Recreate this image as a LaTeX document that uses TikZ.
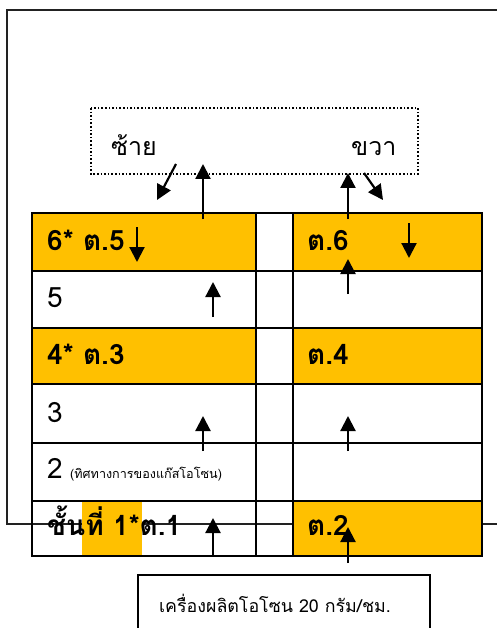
\documentclass[tikz,border=0pt]{standalone}
\usepackage{fontspec}
\usetikzlibrary{arrows.meta}
\newfontfamily\thai[Script=Thai]{Loma}
\definecolor{gold}{HTML}{FFC000}
\definecolor{framegray}{HTML}{222222}
\tikzset{
  grid/.style={line width=2pt, black},
  flow/.style={line width=2.2pt, -{Triangle[width=15pt,length=15pt]}},
  cell/.style={anchor=base west, inner sep=0pt, font=\thai\bfseries\fontsize{28}{32}\selectfont},
  plain/.style={anchor=base west, inner sep=0pt, font=\thai\fontsize{28}{32}\selectfont},
  side/.style={anchor=base west, inner sep=0pt, font=\thai\fontsize{25}{29}\selectfont},
}
\begin{document}
\begin{tikzpicture}[x=1pt,y=-1pt]
\useasboundingbox (0,0) rectangle (497,628);

% outer frame (open to the right)
\draw[line width=2pt, framegray] (497,10) -- (7,10) -- (7,524) -- (497,524);

% shaded cells
\fill[gold] (32,213) rectangle (256,271);
\fill[gold] (293,213) rectangle (482,271);
\fill[gold] (32,328) rectangle (256,384);
\fill[gold] (293,328) rectangle (482,384);
\fill[gold] (293,501) rectangle (482,556);
\fill[gold] (82,501) rectangle (142,556);

% table grid
\draw[grid] (32,213) rectangle (482,556);
\foreach \yy in {271,328,384,443,501} \draw[grid] (32,\yy) -- (482,\yy);
\draw[grid] (256,213) -- (256,556);
\draw[grid] (293,213) -- (293,556);

% direction box
\draw[line width=1.6pt, dotted] (91,108) rectangle (418,174);
\node[side] (left) at (111,156) {ซ้าย};
\node[side] (right) at (351,156) {ขวา};

% row labels
\node[cell] (r6) at (47,250) {6* ต.5};
\node[plain] (r5) at (47,307) {5};
\node[cell] (r4) at (47,364) {4* ต.3};
\node[plain] (r3) at (47,422) {3};
\node[plain] (r2) at (47,478) {2};
\node[anchor=base west, inner sep=0pt, font=\thai\fontsize{12.6}{15}\selectfont] (note) at (70,478) {(ทิศทางการของแก๊สโอโซน)};
\node[cell] (r1) at (47,535) {ชั้นที่ 1*ต.1};
\node[cell] (t6) at (307,250) {ต.6};
\node[cell] (t4) at (307,364) {ต.4};
\node[cell] (t2) at (307,535) {ต.2};

% ozone generator
\draw[line width=2pt] (138,628) -- (138,575) -- (430,575) -- (430,628);
\node[anchor=base, inner sep=0pt, font=\thai\fontsize{17.8}{21}\selectfont] (gen) at (275,612) {เครื่องผลิตโอโซน 20 กรัม/ชม.};

% arrow end points
\coordinate (a1s) at (176,164); \coordinate (a1e) at (157,200);
\coordinate (a2s) at (203,219); \coordinate (a2e) at (203,164);
\coordinate (a3s) at (348,219); \coordinate (a3e) at (348,173);
\coordinate (a4s) at (364,173); \coordinate (a4e) at (383,200);
\coordinate (b1s) at (137,227); \coordinate (b1e) at (137,262);
\coordinate (b2s) at (409,223); \coordinate (b2e) at (409,258);
\coordinate (b3s) at (348,294); \coordinate (b3e) at (348,259);
\coordinate (b4s) at (213,317); \coordinate (b4e) at (213,282);
\coordinate (b5s) at (203,451); \coordinate (b5e) at (203,416);
\coordinate (b6s) at (348,451); \coordinate (b6e) at (348,416);
\coordinate (b7s) at (213,555); \coordinate (b7e) at (213,518);
\coordinate (b8s) at (348,563); \coordinate (b8e) at (348,527);

\foreach \s/\e in {a1s/a1e,a2s/a2e,a3s/a3e,a4s/a4e,b1s/b1e,b2s/b2e,b3s/b3e,b4s/b4e,b5s/b5e,b6s/b6e,b7s/b7e,b8s/b8e}
  \draw[flow] (\s) -- (\e);
\end{tikzpicture}
\end{document}
